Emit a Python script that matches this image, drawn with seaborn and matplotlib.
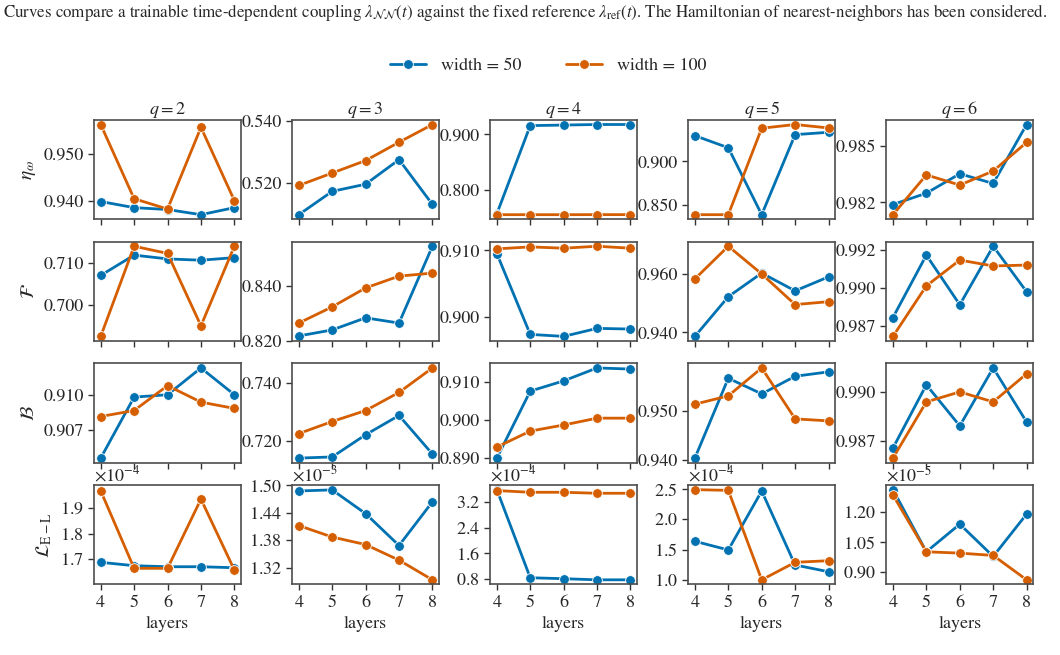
import numpy as np
import pandas as pd
import matplotlib
matplotlib.use('Agg')
import matplotlib.pyplot as plt
from matplotlib.ticker import ScalarFormatter
from matplotlib.lines import Line2D
import seaborn as sns

# Datos (capas 4..8, una lista por q = 2..6)
layers = [4, 5, 6, 7, 8]
q_values = [2, 3, 4, 5, 6]
widths = [50, 100]

eta_w50 = [[0.9398, 0.9385, 0.9381, 0.9370, 0.9385],
           [0.5098, 0.5173, 0.5196, 0.5275, 0.5131],
           [0.757, 0.916, 0.917, 0.918, 0.918],
           [0.9297, 0.9157, 0.8383, 0.9309, 0.9336],
           [0.98240, 0.98290, 0.98376, 0.98333, 0.98594]]
eta_w100 = [[0.9562, 0.9404, 0.9382, 0.9556, 0.9400],
            [0.5192, 0.5232, 0.5272, 0.5331, 0.5388],
            [0.7555, 0.7555, 0.7555, 0.7556, 0.7556],
            [0.8383, 0.8383, 0.9383, 0.9426, 0.9386],
            [0.98195, 0.98371, 0.98326, 0.98388, 0.98515]]

fid_w50 = [[0.7070, 0.7118, 0.7109, 0.7106, 0.7112],
           [0.8218, 0.8240, 0.8284, 0.8265, 0.8545],
           [0.9095, 0.8974, 0.8971, 0.8983, 0.8982],
           [0.9386, 0.9522, 0.9603, 0.9542, 0.9590],
           [0.98803, 0.99217, 0.98888, 0.99276, 0.98974]]
fid_w100 = [[0.6926, 0.7139, 0.7122, 0.6951, 0.7139],
            [0.8265, 0.8324, 0.8393, 0.8436, 0.8447],
            [0.9102, 0.9105, 0.9103, 0.9106, 0.9103],
            [0.9583, 0.9695, 0.9600, 0.9495, 0.9505],
            [0.98678, 0.99013, 0.99184, 0.99145, 0.99151]]

bures_w50 = [[0.90546, 0.90983, 0.91000, 0.91192, 0.91000],
             [0.7140, 0.7144, 0.7221, 0.7288, 0.7154],
             [0.8900, 0.9076, 0.9103, 0.9137, 0.9134],
             [0.9404, 0.9567, 0.9535, 0.9571, 0.9580],
             [0.98714, 0.99036, 0.98827, 0.99122, 0.98847]]
bures_w100 = [[0.90844, 0.90887, 0.91065, 0.90947, 0.90902],
              [0.7225, 0.7267, 0.7305, 0.7368, 0.7453],
              [0.8929, 0.8971, 0.8987, 0.9005, 0.9005],
              [0.9514, 0.9531, 0.9588, 0.9484, 0.9480],
              [0.98663, 0.98949, 0.99000, 0.98949, 0.99092]]

loss_w50 = [[1.6884e-4, 1.6753e-4, 1.6713e-4, 1.6713e-4, 1.6674e-4],
            [1.4873e-3, 1.4896e-3, 1.4378e-3, 1.3682e-3, 1.4636e-3],
            [3.60e-4, 0.83e-4, 0.80e-4, 0.765e-4, 0.765e-4],
            [1.639e-4, 1.495e-4, 2.472e-4, 1.246e-4, 1.134e-4],
            [1.3123e-5, 1.0012e-5, 1.1396e-5, 0.978e-5, 1.190e-5]]
loss_w100 = [[1.9659e-4, 1.6651e-4, 1.6651e-4, 1.9337e-4, 1.6586e-4],
             [1.4118e-3, 1.3867e-3, 1.3703e-3, 1.3362e-3, 1.2933e-3],
             [3.571e-4, 3.517e-4, 3.517e-4, 3.486e-4, 3.486e-4],
             [2.495e-4, 2.483e-4, 1.00e-4, 1.290e-4, 1.317e-4],
             [1.2856e-5, 1.0012e-5, 0.9947e-5, 0.983e-5, 0.861e-5]]

metric_labels = [r'$\eta_\omega$', r'$\mathcal{F}$', r'$\mathcal{B}$',
                 r'$\mathcal{L}_{\rm E-L}$']

# Marcas del eje y (posiciones y textos)
yticks = [
    [([0.940, 0.950], ['0.940', '0.950']),
     ([0.520, 0.540], ['0.520', '0.540']),
     ([0.800, 0.900], ['0.800', '0.900']),
     ([0.850, 0.900], ['0.850', '0.900']),
     ([0.9825, 0.985], ['0.982', '0.985'])],
    [([0.700, 0.710], ['0.700', '0.710']),
     ([0.820, 0.840], ['0.820', '0.840']),
     ([0.900, 0.910], ['0.900', '0.910']),
     ([0.940, 0.960], ['0.940', '0.960']),
     ([0.9875, 0.990, 0.9925], ['0.987', '0.990', '0.992'])],
    [([0.9075, 0.910], ['0.907', '0.910']),
     ([0.720, 0.740], ['0.720', '0.740']),
     ([0.890, 0.900, 0.910], ['0.890', '0.900', '0.910']),
     ([0.940, 0.950], ['0.940', '0.950']),
     ([0.9875, 0.990], ['0.987', '0.990'])],
    [([1.7e-4, 1.8e-4, 1.9e-4], None),
     ([1.32e-3, 1.38e-3, 1.44e-3, 1.50e-3], None),
     ([0.8e-4, 1.6e-4, 2.4e-4, 3.2e-4], None),
     ([1.0e-4, 1.5e-4, 2.0e-4, 2.5e-4], None),
     ([0.90e-5, 1.05e-5, 1.20e-5], None)],
]

# Limite y del panel (E-L, q=2), que no es el automatico en la original
loss_q2_ylim = (1.603e-4, 1.988e-4)

caption = (r'Curves compare a trainable time-dependent coupling $\lambda_{\mathcal{NN}}(t)$ '
           r'against the fixed reference $\lambda_{\rm ref}(t)$. '
           'The Hamiltonian of nearest-neighbors has been considered.')

# Tabla larga para seaborn
metrics = [(eta_w50, eta_w100), (fid_w50, fid_w100),
           (bures_w50, bures_w100), (loss_w50, loss_w100)]
rows = []
for m, (a, b) in enumerate(metrics):
    for j, q in enumerate(q_values):
        for w, series in zip(widths, (a[j], b[j])):
            for x, v in zip(layers, series):
                rows.append({'metric': m, 'q': q, 'width': w, 'layers': x, 'value': v})
df = pd.DataFrame(rows)

sns.set_theme(style='ticks')
plt.rcParams['font.family'] = ['STIXGeneral', 'DejaVu Serif']
plt.rcParams['mathtext.fontset'] = 'stix'
plt.rcParams['axes.edgecolor'] = '0.3'
plt.rcParams['axes.linewidth'] = 1.2

colors = {50: '#0072B2', 100: '#D55E00'}

fig, axes = plt.subplots(4, 5, figsize=(10.6, 6.55), dpi=100, sharex=True)
fig.subplots_adjust(left=0.0887, right=0.9748, top=0.8168, bottom=0.1079,
                    wspace=0.347, hspace=0.227)

for m in range(4):
    for j, q in enumerate(q_values):
        ax = axes[m, j]
        sub = df[(df['metric'] == m) & (df['q'] == q)]
        sns.lineplot(data=sub, x='layers', y='value', hue='width', palette=colors,
                     marker='o', markersize=7, linewidth=2, markeredgewidth=0.6,
                     legend=False, ax=ax)
        ax.set_xticks(layers)
        pos, labs = yticks[m][j]
        if labs is None:
            ax.set_yticks(pos)
            fmt = ScalarFormatter(useMathText=True)
            fmt.set_powerlimits((0, 0))
            ax.yaxis.set_major_formatter(fmt)
            ax.yaxis.get_offset_text().set_fontsize(13)
        else:
            ax.set_yticks(pos, labs)
        ax.tick_params(labelsize=13, length=4, width=1, color='0.2')
        ax.set_ylabel(metric_labels[m] if j == 0 else '', fontsize=14)
        ax.set_xlabel('layers' if m == 3 else '', fontsize=13)
        if m == 0:
            ax.set_title(f'$q={q}$', fontsize=13, pad=3)

axes[3, 0].set_ylim(*loss_q2_ylim)

handles = [Line2D([], [], color=colors[w], marker='o', linewidth=2, markersize=7,
                  markeredgecolor='w', markeredgewidth=0.6) for w in widths]
fig.legend(handles, [f'width = {w}' for w in widths], loc='center',
           bbox_to_anchor=(0.517, 0.90), ncol=2, frameon=False, fontsize=13,
           columnspacing=2.5)

fig.text(0.003, 0.997, caption, fontsize=12.2, va='top', ha='left')

plt.savefig('out.png', dpi=100)
